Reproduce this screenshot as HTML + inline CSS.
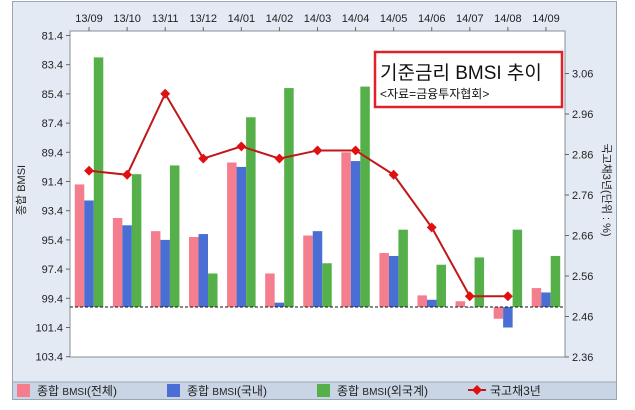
<!DOCTYPE html>
<html><head><meta charset="utf-8">
<style>
body{margin:0;background:#fff;width:635px;height:405px;overflow:hidden}
svg text{font-family:"Liberation Sans","Noto Sans CJK KR",sans-serif}
</style></head>
<body>
<svg id="c" width="635" height="405" xmlns="http://www.w3.org/2000/svg">
<rect x="12.5" y="1.5" width="604" height="398" fill="#e3eaf3" stroke="#9aa6b4"/>
<rect x="13" y="382" width="603" height="17" fill="#c9d5e4"/>
<line x1="13" y1="382" x2="616" y2="382" stroke="#9aa6b4"/>
<rect x="70" y="31" width="495" height="326" fill="#fff" stroke="#8a8f96"/>
<g id="bars"></g><g id="axes"></g><g id="line"></g>
<text x="25" y="190" font-size="11" fill="#222" text-anchor="middle" transform="rotate(-90 25 190)">종합 BMSI</text>
<text x="603" y="190" font-size="11" fill="#222" text-anchor="middle" transform="rotate(90 603 190)">국고채3년(단위 : %)</text>
<g>
<rect x="375" y="52" width="187" height="55" fill="#fff" stroke="#e0202a" stroke-width="2.5"/>
<text x="380" y="79" font-size="19" fill="#111">기준금리 BMSI 추이</text>
<text x="380" y="98" font-size="12" fill="#111">&lt;자료=금융투자협회&gt;</text>
</g>
<g>
<g><rect x="17" y="384" width="13" height="13" fill="#f47e8e"/><text x="37" y="395" font-size="12" fill="#222">종합 <tspan font-size="10">BMSI</tspan>(전체)</text></g>
<g><rect x="167" y="384" width="13" height="13" fill="#4a6fd4"/><text x="187" y="395" font-size="12" fill="#222">종합 <tspan font-size="10">BMSI</tspan>(국내)</text></g>
<g><rect x="317" y="384" width="13" height="13" fill="#55b04a"/><text x="337" y="395" font-size="12" fill="#222">종합 <tspan font-size="10">BMSI</tspan>(외국계)</text></g>
<g><line x1="468" y1="390" x2="486" y2="390" stroke="#c01818" stroke-width="2"/><rect x="473.5" y="386.5" width="7" height="7" fill="#e01010" transform="rotate(45 477 390)"/><text x="490" y="395" font-size="12" fill="#222">국고채3년</text></g>
</g>
</svg>
<script>
const categories=["13/09","13/10","13/11","13/12","14/01","14/02","14/03","14/04","14/05","14/06","14/07","14/08","14/09"];
const totalBMSI=[91.6,93.9,94.8,95.2,90.1,97.7,95.1,89.4,96.3,99.2,99.6,100.8,98.7];
const domesticBMSI=[92.7,94.4,95.4,95.0,90.4,99.7,94.8,90.0,96.5,99.5,100.0,101.4,99.0];
const foreignBMSI=[82.9,90.9,90.3,97.7,87.0,85.0,97.0,84.9,94.7,97.1,96.6,94.7,96.5];
const bond3y=[2.82,2.81,3.01,2.85,2.88,2.85,2.87,2.87,2.81,2.68,2.51,2.51,null];
const leftTicks=["81.4","83.4","85.4","87.4","89.4","91.4","93.4","95.4","97.4","99.4","101.4","103.4"];
const rightTicks=["3.06","2.96","2.86","2.76","2.66","2.56","2.46","2.36"];
const NS="http://www.w3.org/2000/svg";
const X0=70,W=495,band=W/categories.length;
const yL=v=>35.5+(v-81.4)*14.6;
const yR=v=>357-(v-2.36)*405;
const cx=i=>X0+band*(i+0.5);
function mk(p,tag,a){const e=document.createElementNS(NS,tag);for(const k in a)e.setAttribute(k,a[k]);p.appendChild(e);return e;}
const bars=document.getElementById('bars'),axes=document.getElementById('axes'),lineG=document.getElementById('line');
const series=[[totalBMSI,"#f47e8e","total"],[domesticBMSI,"#4a6fd4","domestic"],[foreignBMSI,"#55b04a","foreign"]];
const bw=9.5,base=yL(100);
series.forEach((s,si)=>{s[0].forEach((v,i)=>{
 const x=cx(i)-bw*1.5+si*bw,y=yL(v);
 const r=mk(bars,'rect',{x:x,y:Math.min(y,base),width:bw,height:Math.max(Math.abs(base-y),0.5),fill:s[1]});
 
 
});});
const bl=mk(axes,'line',{x1:X0,x2:X0+W,y1:base,y2:base,stroke:"#111","stroke-dasharray":"3,2"});


leftTicks.forEach(t=>{const y=yL(parseFloat(t));
 mk(axes,'line',{x1:66,x2:70,y1:y,y2:y,stroke:"#666"});
 const e=mk(axes,'text',{x:63,y:y+4,"font-size":11,fill:"#222","text-anchor":"end"});e.textContent=t;
 
 });
rightTicks.forEach(t=>{const y=yR(parseFloat(t));
 mk(axes,'line',{x1:565,x2:569,y1:y,y2:y,stroke:"#666"});
 const e=mk(axes,'text',{x:572,y:y+4,"font-size":11,fill:"#222"});e.textContent=t;
 
 });
categories.forEach((c,i)=>{const x=cx(i);
 mk(axes,'line',{x1:x,x2:x,y1:27,y2:31,stroke:"#666"});
 const e=mk(axes,'text',{x:x,y:22,"font-size":11,fill:"#222","text-anchor":"middle"});e.textContent=c;
 
 });
let d="";bond3y.forEach((v,i)=>{if(v==null)return;d+=(d?"L":"M")+cx(i)+","+yR(v);});
const p=mk(lineG,'path',{d:d,fill:"none",stroke:"#c01818","stroke-width":2});


bond3y.forEach((v,i)=>{if(v==null)return;const x=cx(i),y=yR(v);
 const m=mk(lineG,'rect',{x:x-3.5,y:y-3.5,width:7,height:7,fill:"#e01010",transform:`rotate(45 ${x} ${y})`});
 
 });
</script>
</body></html>
